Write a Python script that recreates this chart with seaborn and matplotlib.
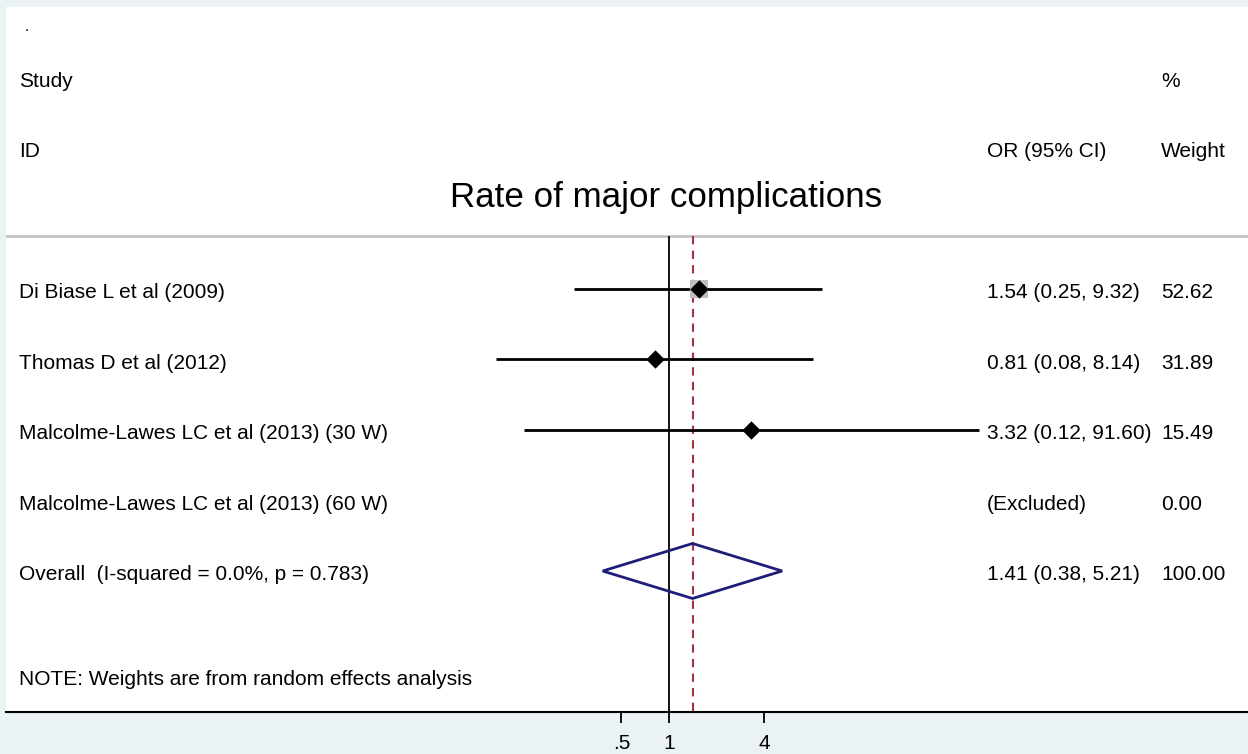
import matplotlib
matplotlib.use("Agg")
import matplotlib.pyplot as plt
import matplotlib.transforms as mtransforms
from matplotlib.patches import Polygon
import seaborn as sns
import numpy as np
import pandas as pd

# ---------------- data ----------------
studies = [
    "Di Biase L et al (2009)",
    "Thomas D et al (2012)",
    "Malcolme-Lawes LC et al (2013) (30 W)",
    "Malcolme-Lawes LC et al (2013) (60 W)",
]
or_est = [1.54, 0.81, 3.32, np.nan]
ci_low = [0.25, 0.08, 0.12, np.nan]
ci_high = [9.32, 8.14, 91.60, np.nan]
weights = [52.62, 31.89, 15.49, 0.00]
or_labels = ["1.54 (0.25, 9.32)", "0.81 (0.08, 8.14)", "3.32 (0.12, 91.60)", "(Excluded)"]
weight_labels = ["52.62", "31.89", "15.49", "0.00"]

overall_label = "Overall  (I-squared = 0.0%, p = 0.783)"
overall_or = 1.41
overall_low = 0.38
overall_high = 5.21
overall_or_label = "1.41 (0.38, 5.21)"
overall_weight_label = "100.00"

x_ticks = [0.5, 1, 4]
x_tick_labels = [".5", "1", "4"]

title = "Rate of major complications"
note = "NOTE: Weights are from random effects analysis"

# ---------------- style ----------------
sns.set_theme(style="white")
plt.rcParams["font.family"] = ["Liberation Sans", "DejaVu Sans"]
plt.rcParams["text.color"] = "black"

BG = "#EAF2F3"
W, H = 1248, 754
fig = plt.figure(figsize=(W / 100, H / 100), dpi=100, facecolor=BG)
ax = fig.add_axes([6 / W, 42 / H, 1242 / W, 705 / H])
ax.set_facecolor("white")

px_per_log2 = 47.5
x_one = 669 - 6
ax.set_xscale("log", base=2)
ax.set_xlim(2 ** (-x_one / px_per_log2), 2 ** ((1242 - x_one) / px_per_log2))
ax.set_ylim(6, -4)

rows = list(range(len(studies)))
overall_row = len(studies)

df = pd.DataFrame({"study": studies, "row": rows, "or": or_est,
                   "lo": ci_low, "hi": ci_high, "w": weights})
valid = df.dropna()

# reference lines
ax.vlines(1, -0.75, 6, color="black", lw=1.3, zorder=2)
ax.vlines(overall_or, -0.75, 6, color="#A3343F", lw=1.5, ls=(0, (4, 3)), zorder=2)
ax.axhline(-0.75, color="#C4C4C4", lw=2, zorder=1)

# CI lines
ax.hlines(valid["row"], valid["lo"], valid["hi"], color="black", lw=2, zorder=3)

# weight boxes
box_side = 13.0 * (valid["w"] / valid["w"].max()) ** 1.5
ax.scatter(valid["or"], valid["row"], s=box_side ** 2, marker="s",
           color="#BEBEBE", zorder=3, linewidths=0)

sns.scatterplot(data=valid, x="or", y="row", marker="D", s=88, color="black",
                edgecolor="black", linewidth=0, zorder=4, ax=ax, legend=False)

# overall diamond
diamond = Polygon([[overall_low, overall_row], [overall_or, overall_row - 0.39],
                   [overall_high, overall_row], [overall_or, overall_row + 0.39]],
                  closed=True, fill=False, edgecolor="#1E1E78", lw=2, zorder=4)
ax.add_patch(diamond)

# text
fs = 15
off = 0.13  # baseline offset (rows)
tr = mtransforms.blended_transform_factory(ax.transAxes, ax.transData)
x_name = (19 - 6) / 1242
x_or = (987 - 6) / 1242
x_w = (1161 - 6) / 1242


def put(x, y, s, **kw):
    kw.setdefault("fontsize", fs)
    ax.text(x, y, s, transform=tr, va="baseline", ha=kw.pop("ha", "left"),
            color="black", **kw)


put((25 - 6) / 1242, (32 - 290) / 70.5, ".", fontsize=11)
put(x_name, -3 + off, "Study")
put(x_name, -2 + off, "ID")
put(x_w, -3 + off, "%")
put(x_or, -2 + off, "OR (95% CI)")
put(x_w, -2 + off, "Weight")
put((666.5 - 6) / 1242, (208 - 290) / 70.5, title, fontsize=25.2, ha="center")

for r, name, orl, wl in zip(rows, studies, or_labels, weight_labels):
    put(x_name, r + off, name)
    put(x_or, r + off, orl)
    put(x_w, r + off, wl)

put(x_name, overall_row + off, overall_label)
put(x_or, overall_row + off, overall_or_label)
put(x_w, overall_row + off, overall_weight_label)
put(x_name, (686 - 290) / 70.5, note)

# axes
for s in ["top", "left", "right"]:
    ax.spines[s].set_visible(False)
ax.spines["bottom"].set_color("black")
ax.spines["bottom"].set_linewidth(1.5)
ax.set_xticks(x_ticks)
ax.set_xticklabels(x_tick_labels, fontsize=fs, color="black")
ax.xaxis.set_minor_locator(matplotlib.ticker.NullLocator())
ax.tick_params(axis="x", direction="out", length=8, width=1.3, pad=8, colors="black",
               bottom=True)
ax.set_yticks([])
ax.set_xlabel("")
ax.set_ylabel("")

fig.savefig("out.png", dpi=100, facecolor=BG)
